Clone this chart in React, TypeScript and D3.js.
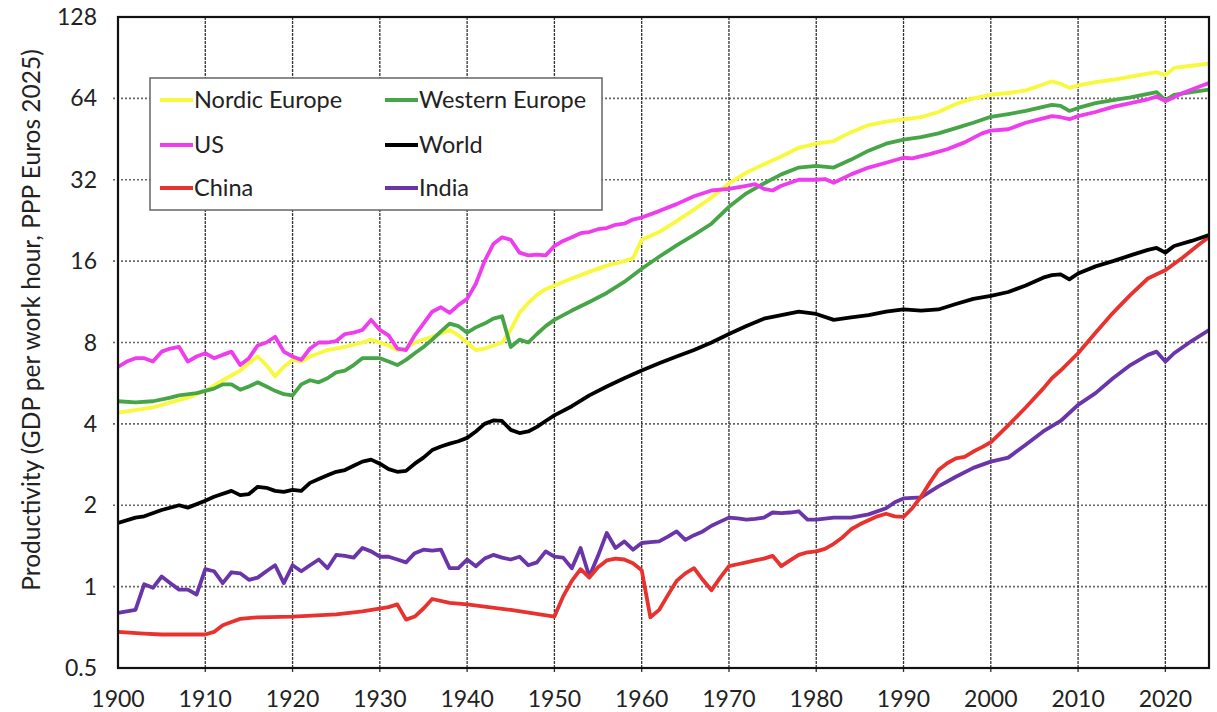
import React from "react";
import * as d3 from "d3";

type Pt = [number, number];

const xTicks = [1900, 1910, 1920, 1930, 1940, 1950, 1960, 1970, 1980, 1990, 2000, 2010, 2020];
const yTicks = [0.5, 1, 2, 4, 8, 16, 32, 64, 128];

const nordicEurope: Pt[] = [[1900,4.4],[1902,4.5],[1904,4.6],[1906,4.8],[1908,5.0],[1910,5.3],[1912,5.8],[1914,6.3],[1915,6.7],[1916,7.1],[1917,6.6],[1918,6.0],[1919,6.5],[1920,6.9],[1921,6.8],[1922,7.1],[1924,7.5],[1926,7.7],[1928,8.0],[1929,8.2],[1930,8.0],[1931,7.8],[1932,7.5],[1933,7.6],[1934,8.0],[1936,8.4],[1938,8.9],[1939,8.5],[1940,8.0],[1941,7.5],[1942,7.6],[1943,7.8],[1944,8.0],[1945,8.9],[1946,10.3],[1947,11.2],[1948,12.0],[1949,12.6],[1950,13.0],[1952,13.8],[1954,14.6],[1956,15.4],[1958,16.0],[1959,16.4],[1960,19.2],[1962,20.5],[1964,22.5],[1966,24.8],[1968,27.5],[1970,31],[1972,34],[1974,36.5],[1976,39],[1978,42],[1980,43.5],[1982,44.5],[1984,48],[1986,51],[1988,52.5],[1990,53.5],[1992,54.5],[1994,57],[1996,61],[1998,64],[2000,66],[2002,67],[2004,68.5],[2006,72],[2007,74],[2008,72.5],[2009,70],[2010,71.5],[2012,73.5],[2014,75],[2016,77],[2018,79],[2019,80],[2020,78],[2021,83],[2023,84.5],[2025,86]];

const westernEurope: Pt[] = [[1900,4.85],[1902,4.8],[1904,4.85],[1906,5.0],[1907,5.1],[1909,5.2],[1911,5.4],[1912,5.6],[1913,5.6],[1914,5.35],[1915,5.5],[1916,5.7],[1917,5.5],[1918,5.3],[1919,5.15],[1920,5.1],[1921,5.6],[1922,5.8],[1923,5.7],[1924,5.9],[1925,6.2],[1926,6.3],[1927,6.6],[1928,7.0],[1929,7.0],[1930,7.0],[1931,6.8],[1932,6.6],[1933,6.9],[1934,7.3],[1935,7.7],[1936,8.2],[1937,8.8],[1938,9.4],[1939,9.2],[1940,8.7],[1941,9.1],[1942,9.4],[1943,9.8],[1944,10.0],[1945,7.7],[1946,8.2],[1947,8.0],[1948,8.6],[1949,9.2],[1950,9.7],[1952,10.5],[1954,11.3],[1956,12.2],[1958,13.4],[1960,15.0],[1962,16.6],[1964,18.3],[1966,20],[1968,22],[1970,25.4],[1972,28.5],[1974,31],[1976,33.5],[1978,35.5],[1980,36],[1982,35.5],[1984,38],[1986,41],[1988,43.5],[1990,45],[1992,46],[1994,47.5],[1996,49.7],[1998,52],[2000,54.7],[2002,56],[2004,57.5],[2006,59.5],[2007,60.6],[2008,60],[2009,57.5],[2010,59],[2012,61.5],[2014,63],[2016,64.5],[2018,66.5],[2019,67.5],[2020,63],[2021,66],[2023,67.5],[2025,69]];

const us: Pt[] = [[1900,6.5],[1901,6.8],[1902,7.0],[1903,7.0],[1904,6.8],[1905,7.4],[1906,7.6],[1907,7.7],[1908,6.8],[1909,7.1],[1910,7.3],[1911,7.0],[1912,7.2],[1913,7.4],[1914,6.6],[1915,7.0],[1916,7.8],[1917,8.0],[1918,8.4],[1919,7.4],[1920,7.1],[1921,6.9],[1922,7.6],[1923,8.0],[1924,8.0],[1925,8.1],[1926,8.6],[1927,8.7],[1928,8.9],[1929,9.7],[1930,8.9],[1931,8.5],[1932,7.6],[1933,7.5],[1934,8.5],[1935,9.4],[1936,10.4],[1937,10.8],[1938,10.3],[1939,11.0],[1940,11.6],[1941,13.2],[1942,16.0],[1943,18.5],[1944,19.6],[1945,19.2],[1946,17.2],[1947,16.8],[1948,16.9],[1949,16.8],[1950,18.2],[1951,19.0],[1952,19.6],[1953,20.3],[1954,20.5],[1955,21.0],[1956,21.2],[1957,21.8],[1958,22.0],[1959,22.8],[1960,23.2],[1962,24.5],[1964,26],[1966,27.8],[1968,29.2],[1970,29.6],[1972,30.4],[1973,30.8],[1974,29.6],[1975,29.2],[1976,30.4],[1978,32],[1980,32],[1981,32.2],[1982,31.2],[1984,33.5],[1986,35.5],[1988,37],[1990,38.6],[1991,38.4],[1993,39.8],[1995,41.5],[1997,44],[1999,47.5],[2000,48.6],[2002,49.2],[2004,52],[2006,54],[2007,55],[2008,54.5],[2009,53.6],[2010,55],[2012,57],[2014,59.5],[2016,61.5],[2018,63.5],[2019,65],[2020,62.5],[2022,67],[2024,71],[2025,73]];

const world: Pt[] = [[1900,1.72],[1902,1.8],[1903,1.82],[1905,1.92],[1907,2.0],[1908,1.96],[1910,2.08],[1911,2.15],[1913,2.26],[1914,2.18],[1915,2.2],[1916,2.34],[1917,2.32],[1918,2.26],[1919,2.24],[1920,2.28],[1921,2.26],[1922,2.42],[1923,2.5],[1924,2.58],[1925,2.66],[1926,2.7],[1927,2.8],[1928,2.9],[1929,2.95],[1930,2.85],[1931,2.72],[1932,2.66],[1933,2.68],[1934,2.85],[1935,3.0],[1936,3.2],[1937,3.3],[1938,3.38],[1939,3.45],[1940,3.55],[1941,3.75],[1942,4.0],[1943,4.12],[1944,4.1],[1945,3.8],[1946,3.7],[1947,3.75],[1948,3.9],[1949,4.1],[1950,4.3],[1952,4.65],[1954,5.1],[1956,5.5],[1958,5.9],[1960,6.3],[1962,6.7],[1964,7.1],[1966,7.5],[1968,8.0],[1970,8.6],[1972,9.2],[1974,9.8],[1976,10.1],[1978,10.4],[1980,10.2],[1982,9.7],[1984,9.9],[1986,10.1],[1988,10.4],[1990,10.6],[1992,10.5],[1994,10.6],[1996,11.1],[1998,11.6],[2000,11.9],[2002,12.3],[2004,13.0],[2006,13.9],[2007,14.2],[2008,14.3],[2009,13.7],[2010,14.4],[2012,15.3],[2014,16.0],[2016,16.8],[2018,17.6],[2019,17.9],[2020,17.2],[2021,18.2],[2023,19.0],[2025,20.0]];

const china: Pt[] = [[1900,0.68],[1903,0.67],[1905,0.665],[1910,0.665],[1911,0.68],[1912,0.72],[1913,0.74],[1914,0.76],[1916,0.77],[1920,0.775],[1925,0.79],[1928,0.81],[1931,0.84],[1932,0.86],[1933,0.755],[1934,0.775],[1935,0.83],[1936,0.9],[1938,0.87],[1940,0.86],[1945,0.82],[1950,0.775],[1951,0.92],[1952,1.05],[1953,1.16],[1954,1.08],[1955,1.18],[1956,1.25],[1957,1.27],[1958,1.26],[1959,1.22],[1960,1.15],[1961,0.77],[1962,0.82],[1963,0.93],[1964,1.05],[1965,1.12],[1966,1.17],[1967,1.06],[1968,0.97],[1969,1.08],[1970,1.19],[1971,1.21],[1972,1.23],[1973,1.25],[1974,1.27],[1975,1.3],[1976,1.19],[1977,1.25],[1978,1.31],[1979,1.34],[1980,1.35],[1981,1.38],[1982,1.44],[1983,1.52],[1984,1.63],[1985,1.7],[1986,1.76],[1987,1.82],[1988,1.86],[1989,1.82],[1990,1.81],[1991,1.95],[1992,2.15],[1993,2.42],[1994,2.7],[1995,2.86],[1996,2.98],[1997,3.02],[1998,3.16],[1999,3.28],[2000,3.42],[2002,3.95],[2004,4.6],[2006,5.4],[2007,5.9],[2008,6.3],[2010,7.3],[2012,8.7],[2014,10.3],[2016,12.0],[2018,13.8],[2019,14.3],[2020,14.8],[2022,16.5],[2024,18.6],[2025,19.6]];

const india: Pt[] = [[1900,0.8],[1901,0.81],[1902,0.82],[1903,1.02],[1904,0.99],[1905,1.09],[1906,1.03],[1907,0.975],[1908,0.975],[1909,0.935],[1910,1.16],[1911,1.14],[1912,1.03],[1913,1.13],[1914,1.12],[1915,1.06],[1916,1.08],[1917,1.14],[1918,1.2],[1919,1.03],[1920,1.2],[1921,1.14],[1922,1.2],[1923,1.26],[1924,1.17],[1925,1.31],[1926,1.3],[1927,1.28],[1928,1.39],[1929,1.35],[1930,1.29],[1931,1.29],[1932,1.26],[1933,1.23],[1934,1.33],[1935,1.37],[1936,1.36],[1937,1.37],[1938,1.17],[1939,1.17],[1940,1.26],[1941,1.19],[1942,1.27],[1943,1.31],[1944,1.28],[1945,1.26],[1946,1.29],[1947,1.2],[1948,1.23],[1949,1.35],[1950,1.29],[1951,1.28],[1952,1.17],[1953,1.39],[1954,1.09],[1955,1.3],[1956,1.58],[1957,1.39],[1958,1.47],[1959,1.37],[1960,1.45],[1961,1.46],[1962,1.47],[1963,1.53],[1964,1.6],[1965,1.49],[1966,1.55],[1967,1.6],[1968,1.68],[1969,1.74],[1970,1.8],[1971,1.79],[1972,1.77],[1973,1.78],[1974,1.8],[1975,1.88],[1976,1.87],[1977,1.88],[1978,1.9],[1979,1.77],[1980,1.77],[1982,1.8],[1984,1.8],[1986,1.85],[1988,1.95],[1989,2.05],[1990,2.12],[1992,2.14],[1994,2.35],[1996,2.55],[1998,2.75],[2000,2.9],[2002,3.0],[2004,3.35],[2006,3.75],[2008,4.1],[2010,4.7],[2012,5.2],[2014,5.9],[2016,6.6],[2018,7.2],[2019,7.4],[2020,6.8],[2021,7.3],[2023,8.1],[2025,8.9]];

const seriesNames = ["Nordic Europe", "Western Europe", "US", "World", "China", "India"];
const seriesColors = ["#f8f83c", "#46a546", "#ee3cee", "#000000", "#e8322e", "#6a35a8"];
const seriesData = [nordicEurope, westernEurope, us, world, china, india];
// draw order (bottom to top)
const drawOrder = [5, 4, 3, 0, 1, 2];

const W = 1217;
const H = 712;
const M = { left: 118, right: 1209, top: 17, bottom: 668 };
const FONT = "Lato, 'Open Sans', sans-serif";

export default function App() {
  const x = d3.scaleLinear().domain([1900, 2025]).range([M.left, M.right]);
  const y = d3.scaleLog().base(2).domain([0.5, 128]).range([M.bottom, M.top]);
  const line = d3
    .line<Pt>()
    .x((d) => x(d[0]))
    .y((d) => y(d[1]))
    .curve(d3.curveLinear);

  const legendX = 150;
  const legendY = 78;
  const legendW = 452;
  const legendH = 132;
  const colX = [160, 385];
  const rowY = [100, 145, 188];

  return (
    <svg
      width={W}
      height={H}
      style={{ position: "absolute", left: 0, top: 0, background: "#fff" }}
      fontFamily={FONT}
    >
      <defs>
        <clipPath id="plotClip">
          <rect x={M.left} y={M.top} width={M.right - M.left} height={M.bottom - M.top} />
        </clipPath>
      </defs>
      <rect x={0} y={0} width={W} height={H} fill="#fff" />

      {/* horizontal grid */}
      {yTicks.slice(1, -1).map((t) => (
        <line
          key={"hy" + t}
          x1={M.left - 5}
          x2={M.right}
          y1={y(t)}
          y2={y(t)}
          stroke="#666"
          strokeWidth={1.6}
          strokeDasharray="2,2"
        />
      ))}
      {/* vertical grid */}
      {xTicks.slice(1).map((t) => (
        <line
          key={"vx" + t}
          x1={x(t)}
          x2={x(t)}
          y1={M.top}
          y2={M.bottom + 5}
          stroke="#333"
          strokeWidth={1.3}
          strokeDasharray="3,1"
        />
      ))}

      {/* series */}
      <g clipPath="url(#plotClip)">
        {drawOrder.map((i) => (
          <path
            key={seriesNames[i]}
            d={line(seriesData[i]) || ""}
            fill="none"
            stroke={seriesColors[i]}
            strokeWidth={3.8}
            strokeLinejoin="round"
            strokeLinecap="round"
          />
        ))}
      </g>

      {/* frame */}
      <rect
        x={M.left}
        y={M.top}
        width={M.right - M.left}
        height={M.bottom - M.top}
        fill="none"
        stroke="#111"
        strokeWidth={2.2}
      />

      {/* y tick labels */}
      {yTicks.map((t) => (
        <text
          key={"yl" + t}
          x={97}
          y={y(t)}
          dy="0.35em"
          textAnchor="end"
          fontSize={23}
          fill="#222"
        >
          {t}
        </text>
      ))}
      {/* x tick labels */}
      {xTicks.map((t) => (
        <text
          key={"xl" + t}
          x={x(t)}
          y={707}
          textAnchor="middle"
          fontSize={23}
          fill="#222"
        >
          {t}
        </text>
      ))}

      {/* y axis title */}
      <text
        transform={`translate(40, 320) rotate(-90)`}
        textAnchor="middle"
        fontSize={24.5}
        fill="#222"
      >
        Productivity (GDP per work hour, PPP Euros 2025)
      </text>

      {/* legend */}
      <rect
        x={legendX}
        y={legendY}
        width={legendW}
        height={legendH}
        fill="#fff"
        stroke="#666"
        strokeWidth={1.5}
      />
      {seriesNames.map((name, i) => {
        const cx = colX[i % 2];
        const cy = rowY[Math.floor(i / 2)];
        return (
          <g key={"lg" + name}>
            <line x1={cx} x2={cx + 33} y1={cy} y2={cy} stroke={seriesColors[i]} strokeWidth={3.8} />
            <text x={cx + 34} y={cy} dy="0.36em" fontSize={23.5} fill="#222">
              {name}
            </text>
          </g>
        );
      })}
    </svg>
  );
}
